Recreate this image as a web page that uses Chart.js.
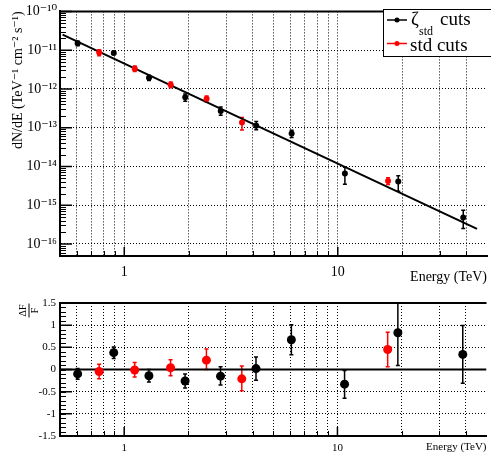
<!DOCTYPE html>
<html><head><meta charset="utf-8">
<script src="https://cdn.jsdelivr.net/npm/chart.js@4/dist/chart.umd.min.js"></script>
<style>
html,body{margin:0;padding:0;background:#fff;}
#wrap{position:relative;width:491px;height:460px;overflow:hidden;background:#fff;}
canvas{position:absolute;left:0;}
#c1{top:0;width:491px;height:290px;}
#c2{top:290px;width:491px;height:170px;}
</style></head>
<body><div id="wrap"><canvas id="c1" width="491" height="290"></canvas><canvas id="c2" width="491" height="170"></canvas></div>
<script>
// ---------------- data ----------------
const energyZeta = [0.605, 0.893, 1.306, 1.93, 2.83, 4.15, 6.08, 10.8, 19.2, 38.7];
const fluxZeta   = [1.5e-11, 8.5e-12, 1.95e-12, 6.1e-13, 2.7e-13, 1.12e-13, 7.1e-14, 6.6e-15, 4.1e-15, 4.8e-16];
const fluxZetaLo = [1.3e-11, 7.7e-12, 1.65e-12, 4.8e-13, 2.1e-13, 0.88e-13, 5.6e-14, 3.5e-15, 2.3e-15, 2.5e-16];
const fluxZetaHi = [1.7e-11, 9.3e-12, 2.25e-12, 7.4e-13, 3.4e-13, 1.44e-13, 8.6e-14, 9.6e-15, 5.8e-15, 7.4e-16];

const energyStd = [0.763, 1.12, 1.65, 2.43, 3.56, 17.2];
const fluxStd   = [8.7e-12, 3.3e-12, 1.29e-12, 5.6e-13, 1.37e-13, 4.2e-15];
const fluxStdLo = [7.2e-12, 2.8e-12, 1.07e-12, 4.6e-13, 0.87e-13, 3.4e-15];
const fluxStdHi = [1.02e-11, 3.9e-12, 1.51e-12, 6.6e-13, 1.84e-13, 5.1e-15];

const residZeta   = [-0.10, 0.38, -0.14, -0.26, -0.15, 0.02, 0.67, -0.33, 0.83, 0.34];
const residZetaLo = [-0.22, 0.25, -0.28, -0.42, -0.35, -0.24, 0.33, -0.65, 0.09, -0.31];
const residZetaHi = [0.02, 0.51, 0.00, -0.10, 0.06, 0.28, 1.01, -0.02, 1.60, 0.99];

const residStd   = [-0.045, -0.01, 0.04, 0.21, -0.21, 0.45];
const residStdLo = [-0.21, -0.17, -0.14, 0.00, -0.48, 0.06];
const residStdHi = [0.12, 0.16, 0.22, 0.46, 0.08, 0.84];

const fitEnergy = [0.514, 44.9];
const fitFlux   = [2.52e-11, 2.45e-16];

const zeroLineEnergy = [0.5, 50];
const zeroLineValue  = [0, 0];

// ---------------- ticks / labels ----------------
const energyGridTicks = [0.6, 0.7, 0.8, 0.9, 1, 2, 3, 4, 5, 6, 7, 8, 9, 10, 20, 30, 40];
const energyLabelTicks = [1, 10];
const fluxDecades = [1e-16, 1e-15, 1e-14, 1e-13, 1e-12, 1e-11, 1e-10];
const fluxExponents = [-16, -15, -14, -13, -12, -11, -10];
const residTicks = [-1.5, -1, -0.5, 0, 0.5, 1, 1.5];
const residTickLabels = ['-1.5', '-1', '-0.5', '0', '0.5', '1', '1.5'];

const legendLabels = ['ζ', 'std', 'cuts', 'std cuts'];
const xTitle = 'Energy (TeV)';
const yTitleTop = 'dN/dE (TeV⁻¹ cm⁻² s⁻¹)';

const SERIF = "'Liberation Serif', 'DejaVu Serif', serif";
Chart.defaults.color = '#000';
Chart.defaults.font.family = SERIF;

const supMap = {'-':'⁻','0':'⁰','1':'¹','2':'²','3':'³','4':'⁴','5':'⁵','6':'⁶','7':'⁷','8':'⁸','9':'⁹'};
function sup(n){ return String(n).split('').map(c => supMap[c] || c).join(''); }

function pts(xs, ys){ return xs.map((x, i) => ({x: x, y: ys[i]})); }

// ---------------- plugins ----------------
const errorBars = {
  id: 'errorBars',
  beforeDatasetsDraw(chart) {
    const {ctx, chartArea: a, scales} = chart;
    const x = scales.x, y = scales.y;
    ctx.save();
    ctx.beginPath(); ctx.rect(a.left, a.top, a.right - a.left, a.bottom - a.top); ctx.clip();
    chart.data.datasets.forEach(ds => {
      if (!ds.errLo) return;
      ctx.strokeStyle = ds.borderColor;
      ctx.lineWidth = ds.errWidth || 1.5;
      ds.data.forEach((p, i) => {
        const px = x.getPixelForValue(p.x);
        const y1 = y.getPixelForValue(ds.errLo[i]);
        const y2 = y.getPixelForValue(ds.errHi[i]);
        ctx.beginPath();
        ctx.moveTo(px, y1); ctx.lineTo(px, y2);
        ctx.moveTo(px - 2, y1); ctx.lineTo(px + 2, y1);
        ctx.moveTo(px - 2, y2); ctx.lineTo(px + 2, y2);
        ctx.stroke();
      });
    });
    ctx.restore();
  }
};

function insideTicks(cfg) {
  return {
    id: 'insideTicks',
    afterDraw(chart) {
      const {ctx, chartArea: a, scales} = chart;
      const x = scales.x, y = scales.y;
      const inY = v => v >= y.min && v <= y.max;
      ctx.save();
      ctx.strokeStyle = '#000';
      ctx.lineWidth = 1;
      ctx.beginPath();
      cfg.yMinor.filter(inY).forEach(v => { const p = Math.round(y.getPixelForValue(v)) + 0.5; ctx.moveTo(a.left, p); ctx.lineTo(a.left + 6, p); });
      ctx.stroke();
      ctx.lineWidth = 1.5;
      ctx.beginPath();
      cfg.yMajor.filter(inY).forEach(v => { const p = y.getPixelForValue(v); ctx.moveTo(a.left, p); ctx.lineTo(a.left + 12, p); });
      ctx.stroke();
      ctx.lineWidth = 1;
      ctx.beginPath();
      cfg.xMinor.forEach(v => { const p = Math.round(x.getPixelForValue(v)) + 0.5; ctx.moveTo(p, a.bottom); ctx.lineTo(p, a.bottom - 5); });
      ctx.stroke();
      ctx.lineWidth = 1.5;
      ctx.beginPath();
      cfg.xMajor.forEach(v => { const p = x.getPixelForValue(v); ctx.moveTo(p, a.bottom); ctx.lineTo(p, a.bottom - 9); });
      ctx.stroke();
      ctx.lineWidth = 2;
      ctx.beginPath(); ctx.moveTo(a.left, a.top); ctx.lineTo(a.right, a.top); ctx.stroke();
      ctx.restore();
    }
  };
}

const legendBox = {
  id: 'legendBox',
  afterDraw(chart) {
    const ctx = chart.ctx;
    ctx.save();
    ctx.fillStyle = '#fff';
    ctx.fillRect(383.5, 9.5, 120, 47);
    ctx.strokeStyle = '#000'; ctx.lineWidth = 1;
    ctx.strokeRect(383.5, 9.5, 120, 47);
    const rows = [{c: '#000', y: 20}, {c: '#ff0000', y: 43.5}];
    rows.forEach(r => {
      ctx.strokeStyle = r.c; ctx.fillStyle = r.c; ctx.lineWidth = 1.5;
      ctx.beginPath(); ctx.moveTo(387, r.y); ctx.lineTo(407, r.y); ctx.stroke();
      ctx.beginPath(); ctx.arc(397, r.y, 2.5, 0, Math.PI * 2); ctx.fill();
    });
    ctx.fillStyle = '#000';
    ctx.textBaseline = 'alphabetic'; ctx.textAlign = 'left';
    ctx.font = '19px ' + SERIF;
    ctx.fillText(legendLabels[0], 411, 25);
    ctx.font = '12px ' + SERIF;
    ctx.fillText(legendLabels[1], 419, 35);
    ctx.font = '19px ' + SERIF;
    ctx.fillText(legendLabels[2], 440, 25);
    ctx.fillText(legendLabels[3], 410, 50.5);
    ctx.restore();
  }
};

const fractionTitle = {
  id: 'fractionTitle',
  afterDraw(chart) {
    const ctx = chart.ctx;
    ctx.save();
    ctx.translate(29, 20.5);
    ctx.rotate(-Math.PI / 2);
    ctx.fillStyle = '#000'; ctx.strokeStyle = '#000';
    ctx.font = '10px ' + SERIF;
    ctx.textAlign = 'center'; ctx.textBaseline = 'middle';
    ctx.fillText('ΔF', 0, -5.5);
    ctx.fillText('F', 0, 6);
    ctx.lineWidth = 1;
    ctx.beginPath(); ctx.moveTo(-7, 0); ctx.lineTo(7, 0); ctx.stroke();
    ctx.restore();
  }
};

const energyMinor = energyGridTicks.filter(v => energyLabelTicks.indexOf(v) < 0);
const fluxMinor = [];
fluxDecades.concat([1e-17]).forEach(d => { [2,3,4,5,6,7,8,9].forEach(m => fluxMinor.push(m * d)); });
const residMinor = [];
for (let k = -15; k <= 15; k++) residMinor.push(k / 10);

function energyAxis(fontSize, labelPad, titlePadBottom, height) {
  return {
    type: 'logarithmic', position: 'bottom', min: 0.5, max: 50,
    afterFit: s => { s.height = height; },
    afterBuildTicks: s => { s.ticks = energyGridTicks.map(v => ({value: v})); },
    ticks: {
      autoSkip: false, maxRotation: 0, minRotation: 0, padding: labelPad,
      font: {size: fontSize, family: SERIF}, color: '#000',
      callback: v => (energyLabelTicks.indexOf(v) >= 0 ? String(v) : '')
    },
    grid: {color: '#000', lineWidth: 1, drawTicks: false},
    border: {display: true, color: '#000', width: 2, dash: [1, 2]},
    title: {display: true, text: xTitle, align: 'end', font: {size: fontSize, family: SERIF}, color: '#000', padding: {top: 0, bottom: titlePadBottom}}
  };
}

new Chart(document.getElementById('c1'), {
  type: 'scatter',
  data: {
    datasets: [
      {label: 'ζstd cuts', data: pts(energyZeta, fluxZeta), errLo: fluxZetaLo, errHi: fluxZetaHi,
       backgroundColor: '#000', borderColor: '#000', pointRadius: 3, borderWidth: 0},
      {label: 'std cuts', data: pts(energyStd, fluxStd), errLo: fluxStdLo, errHi: fluxStdHi,
       backgroundColor: '#ff0000', borderColor: '#ff0000', pointRadius: 3, borderWidth: 0},
      {label: 'fit', type: 'line', data: pts(fitEnergy, fitFlux), borderColor: '#000', borderWidth: 2,
       pointRadius: 0, fill: false, tension: 0}
    ]
  },
  options: {
    responsive: false, animation: false, events: [],
    layout: {padding: {left: 0, right: 0, top: 10, bottom: 0}},
    plugins: {legend: {display: false}, tooltip: {enabled: false}},
    scales: {
      x: energyAxis(14, 8, 4, 34),
      y: {
        type: 'logarithmic', min: 4.9e-17, max: 1e-10,
        afterFit: s => { s.width = 60; },
        afterBuildTicks: s => { s.ticks = fluxDecades.map(v => ({value: v})); },
        ticks: {
          autoSkip: false, padding: 3, font: {size: 14, family: SERIF}, color: '#000',
          callback: (v, i) => '10' + sup(fluxExponents[i])
        },
        grid: {color: ctx => (ctx.tick && ctx.tick.value >= 1e-10 ? 'rgba(0,0,0,0)' : '#000'), lineWidth: 1, drawTicks: false},
        border: {display: true, color: '#000', width: 2, dash: [1, 2]},
        title: {display: true, text: yTitleTop, align: 'end', font: {size: 14, family: SERIF}, color: '#000', padding: {top: 10, bottom: 0}}
      }
    }
  },
  plugins: [errorBars, insideTicks({yMajor: fluxDecades, yMinor: fluxMinor, xMajor: energyLabelTicks, xMinor: energyMinor}), legendBox]
});

new Chart(document.getElementById('c2'), {
  type: 'scatter',
  data: {
    datasets: [
      {label: 'ζstd cuts', data: pts(energyZeta, residZeta), errLo: residZetaLo, errHi: residZetaHi,
       backgroundColor: '#000', borderColor: '#000', pointRadius: 4.5, borderWidth: 0},
      {label: 'std cuts', data: pts(energyStd, residStd), errLo: residStdLo, errHi: residStdHi,
       backgroundColor: '#ff0000', borderColor: '#ff0000', pointRadius: 4.5, borderWidth: 0},
      {label: 'zero', type: 'line', data: pts(zeroLineEnergy, zeroLineValue), borderColor: '#000', borderWidth: 2,
       pointRadius: 0, fill: false}
    ]
  },
  options: {
    responsive: false, animation: false, events: [],
    layout: {padding: {left: 0, right: 0, top: 13, bottom: 0}},
    plugins: {legend: {display: false}, tooltip: {enabled: false}},
    scales: {
      x: energyAxis(11, 6, 6, 24),
      y: {
        type: 'linear', min: -1.5, max: 1.5,
        afterFit: s => { s.width = 60; },
        afterBuildTicks: s => { s.ticks = residTicks.map(v => ({value: v})); },
        ticks: {
          autoSkip: false, padding: 4, font: {size: 11, family: SERIF}, color: '#000',
          callback: (v, i) => residTickLabels[i]
        },
        grid: {color: ctx => (ctx.tick && (Math.abs(ctx.tick.value) === 0.5 || Math.abs(ctx.tick.value) === 1) ? '#000' : 'rgba(0,0,0,0)'), lineWidth: 1, drawTicks: false},
        border: {display: true, color: '#000', width: 2, dash: [1, 2]}
      }
    }
  },
  plugins: [errorBars, insideTicks({yMajor: residTicks, yMinor: residMinor, xMajor: energyLabelTicks, xMinor: energyMinor}), fractionTitle]
});
</script>
</body></html>
